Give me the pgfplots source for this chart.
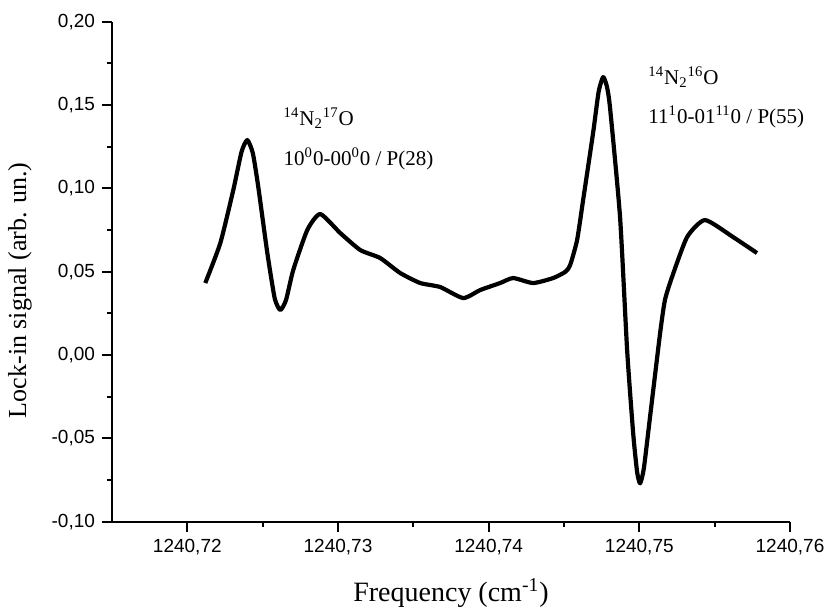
\documentclass[border=0pt]{standalone}
\usepackage{fontspec}
\setmainfont{Liberation Serif}
\setsansfont{Liberation Sans}
\usepackage{pgfplots}
\pgfplotsset{compat=1.18}
% x values stored as (frequency - 1240.7 cm^-1) * 1000 to keep precision
\begin{document}
\begin{tikzpicture}
\path[use as bounding box] (-56pt,-42.65pt) rectangle (356.5pt,260.85pt);
\begin{axis}[
  at={(0,0)}, anchor=south west,
  scale only axis, width=339pt, height=250pt,
  xmin=15, xmax=60, ymin=-0.10, ymax=0.20,
  axis x line*=bottom, axis y line*=left,
  axis line style={-, line width=1pt},
  xtick={20,30,40,50,60},
  xticklabels={{1240,72},{1240,73},{1240,74},{1240,75},{1240,76}},
  ytick={-0.10,-0.05,0,0.05,0.10,0.15,0.20},
  yticklabels={{-0,10},{-0,05},{0,00},{0,05},{0,10},{0,15},{0,20}},
  minor x tick num=1, minor y tick num=1,
  tick align=outside,
  major tick length=5pt, minor tick length=2.5pt,
  tick style={line width=1pt, black},
  ticklabel style={font=\fontsize{9.5}{11}\selectfont\sffamily},
  xlabel={Frequency (cm\textsuperscript{-1})},
  ylabel={Lock-in signal (arb. un.)},
  xlabel style={font=\fontsize{14}{16}\selectfont, at={(axis description cs:0.5,-0.1424)}, anchor=center},
  ylabel style={font=\fontsize{13}{15}\selectfont, at={(axis description cs:-0.1357,0.463)}, anchor=center},
  clip=false,
]
\addplot[black, line width=2.1pt, smooth, tension=0.35, line join=round] coordinates {
(21.19,0.0432) (22.19,0.0672) (23.05,0.0990) (23.60,0.1220) (23.98,0.1290) (24.35,0.1210) (24.71,0.1008)
(25.31,0.0612) (25.80,0.0340) (26.17,0.0270) (26.55,0.0330) (27.03,0.0510) (27.96,0.0750) (28.82,0.0846)
(30.15,0.0732) (31.48,0.0630) (32.80,0.0582) (34.13,0.0492) (35.46,0.0432)
(36.78,0.0408) (38.31,0.0342) (39.44,0.0390) (40.76,0.0432) (41.63,0.0462)
(42.95,0.0432) (44.28,0.0462) (45.10,0.0500) (45.41,0.0540) (45.87,0.0690) (46.27,0.0930)
(46.93,0.1332) (47.30,0.1580) (47.60,0.1668) (47.85,0.1610) (48.06,0.1480) (48.72,0.0828) (49.19,0.0030)
(49.59,-0.0468) (49.85,-0.0700) (50.05,-0.0770) (50.30,-0.0680) (50.71,-0.0372) (51.38,0.0132) (51.70,0.0330) (52.17,0.0468)
(53.17,0.0708) (54.36,0.0810) (56.22,0.0708) (57.81,0.0612)
};
\node[anchor=west, inner sep=0pt, font=\fontsize{10.5}{12}\selectfont] at (axis cs:26.37,0.142) {\textsuperscript{14}N\textsubscript{2}\textsuperscript{17}O};
\node[anchor=west, inner sep=0pt, font=\fontsize{10.5}{12}\selectfont] at (axis cs:26.37,0.118) {10\textsuperscript{0}0-00\textsuperscript{0}0 / P(28)};
\node[anchor=west, inner sep=0pt, font=\fontsize{10.5}{12}\selectfont] at (axis cs:50.58,0.1668) {\textsuperscript{14}N\textsubscript{2}\textsuperscript{16}O};
\node[anchor=west, inner sep=0pt, font=\fontsize{10.5}{12}\selectfont] at (axis cs:50.58,0.1428) {11\textsuperscript{1}0-01\textsuperscript{11}0 / P(55)};
\end{axis}
\end{tikzpicture}
\end{document}
